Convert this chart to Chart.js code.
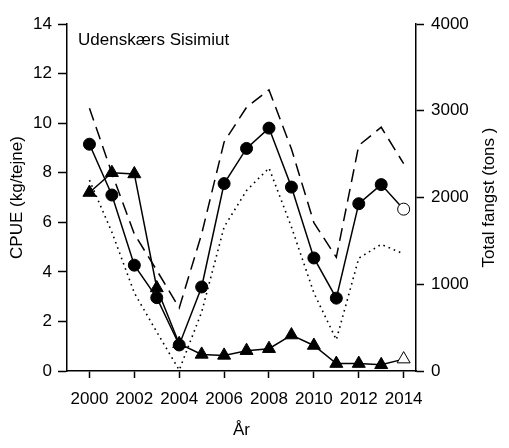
<!DOCTYPE html>
<html>
<head>
<meta charset="utf-8">
<script src="https://cdn.jsdelivr.net/npm/chart.js"></script>
<style>
  html, body { margin: 0; padding: 0; background: #fff; }
</style>
</head>
<body>
<canvas id="myChart" width="509" height="448"></canvas>
<script>
var years = [2000, 2001, 2002, 2003, 2004, 2005, 2006, 2007, 2008, 2009, 2010, 2011, 2012, 2013, 2014];
var cpueCircles = [9.15, 7.1, 4.27, 2.96, 1.05, 3.39, 7.56, 8.98, 9.8, 7.42, 4.56, 2.94, 6.75, 7.52, 6.53];
var cpueTriangles = [7.2, 8.0, 7.95, 3.35, 1.1, 0.67, 0.63, 0.82, 0.9, 1.45, 1.03, 0.3, 0.3, 0.25, 0.48];
var catchDashed = [3030, 2280, 1580, 1160, 728, 1580, 2640, 3040, 3240, 2560, 1710, 1310, 2600, 2810, 2390];
var catchDotted = [2200, 1600, 900, 450, 10, 680, 1660, 2080, 2340, 1660, 900, 360, 1300, 1460, 1350];
var xTicks = [2000, 2002, 2004, 2006, 2008, 2010, 2012, 2014];

var FONT = '"Liberation Sans", Arial, sans-serif';

function pts(vals) {
  return years.map(function (y, i) { return { x: y, y: vals[i] }; });
}
// last year is drawn as an open marker
function fills(vals) {
  return vals.map(function (v, i) { return i == vals.length - 1 ? "#fff" : "#000"; });
}

var extraText = {
  id: "extraText",
  afterDraw: function (chart) {
    var ctx = chart.ctx;
    ctx.save();
    ctx.fillStyle = "#000";
    ctx.font = "17px " + FONT;
    ctx.textAlign = "left";
    ctx.textBaseline = "alphabetic";
    ctx.fillText("Udenskærs Sisimiut", 78, 45);
    ctx.translate(489, (chart.chartArea.top + chart.chartArea.bottom) / 2);
    ctx.rotate(-Math.PI / 2);
    ctx.textAlign = "center";
    ctx.textBaseline = "middle";
    ctx.fillText("Total fangst (tons )", 0, 0);
    ctx.restore();
  }
};

Chart.defaults.font.family = FONT;
Chart.defaults.font.size = 17;
Chart.defaults.color = "#000";

new Chart("myChart", {
  type: "line",
  data: {
    datasets: [{
      data: pts(cpueCircles),
      yAxisID: "y",
      borderColor: "#000",
      borderWidth: 1.5,
      pointStyle: "circle",
      pointRadius: 6,
      pointBorderWidth: 1,
      pointBorderColor: "#000",
      pointBackgroundColor: fills(cpueCircles),
      fill: false,
      clip: false
    }, {
      data: pts(cpueTriangles),
      yAxisID: "y",
      borderColor: "#000",
      borderWidth: 1.5,
      pointStyle: "triangle",
      pointRadius: 7.5,
      pointBorderWidth: 1,
      pointBorderColor: "#000",
      pointBackgroundColor: fills(cpueTriangles),
      fill: false,
      clip: false
    }, {
      data: pts(catchDashed),
      yAxisID: "y1",
      borderColor: "#000",
      borderWidth: 1.5,
      borderDash: [13, 7],
      pointRadius: 0,
      fill: false,
      clip: false
    }, {
      data: pts(catchDotted),
      yAxisID: "y1",
      borderColor: "#000",
      borderWidth: 1.6,
      borderDash: [1.6, 4],
      pointRadius: 0,
      fill: false,
      clip: false
    }]
  },
  options: {
    responsive: false,
    animation: false,
    layout: { padding: { top: 24, left: 0, right: 0, bottom: 0 } },
    plugins: {
      legend: { display: false },
      tooltip: { enabled: false }
    },
    scales: {
      x: {
        type: "linear",
        min: 1999,
        max: 2014.55,
        afterBuildTicks: function (scale) {
          scale.ticks = xTicks.map(function (v) { return { value: v }; });
        },
        afterFit: function (scale) { scale.height = 77; },
        ticks: {
          padding: 11,
          maxRotation: 0,
          autoSkip: false,
          callback: function (v) { return String(v); }
        },
        grid: { drawOnChartArea: false, tickLength: 7, tickColor: "#000", tickWidth: 1.5 },
        border: { display: true, color: "#000", width: 1.5 },
        title: { display: true, text: "År", padding: { top: 0, bottom: 7 } }
      },
      y: {
        position: "left",
        min: 0,
        max: 14,
        afterFit: function (scale) { scale.width = 67; },
        ticks: { stepSize: 2, padding: 6 },
        grid: { drawOnChartArea: false, tickLength: 9, tickColor: "#000", tickWidth: 1.5 },
        border: { display: true, color: "#000", width: 1.5 },
        title: { display: true, text: "CPUE (kg/tejne)", padding: { top: 7, bottom: 0 } }
      },
      y1: {
        position: "right",
        min: 0,
        max: 4000,
        afterFit: function (scale) { scale.width = 93; },
        ticks: {
          stepSize: 1000,
          padding: 7,
          callback: function (v) { return String(v); }
        },
        grid: { drawOnChartArea: false, tickLength: 8, tickColor: "#000", tickWidth: 1.5 },
        border: { display: true, color: "#000", width: 1.5 }
      }
    }
  },
  plugins: [extraText]
});
</script>
</body>
</html>
